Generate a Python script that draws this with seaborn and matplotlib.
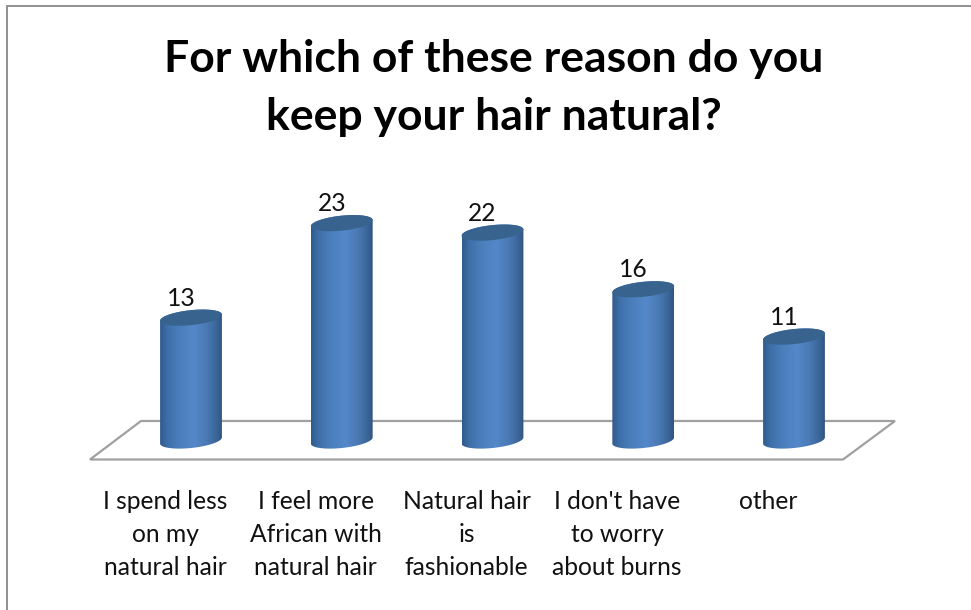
import numpy as np
import pandas as pd
import matplotlib
matplotlib.use("Agg")
import matplotlib.pyplot as plt
from matplotlib.colors import LinearSegmentedColormap
from matplotlib.patches import Polygon, Rectangle
from matplotlib.transforms import ScaledTranslation
import seaborn as sns

title_lines = ["For which of these reason do you", "keep your hair natural?"]
categories = ["I spend less\non my\nnatural hair", "I feel more\nAfrican with\nnatural hair",
              "Natural hair\nis\nfashionable", "I don't have\nto worry\nabout burns", "other"]
values = [13, 23, 22, 16, 11]

W, H = 971, 610
sns.set_theme(style="white")
plt.rcParams["font.family"] = ["Lato", "DejaVu Sans"]
fig = plt.figure(figsize=(W / 100, H / 100), dpi=100, facecolor="white")
fig.add_artist(Rectangle((7 / W, -0.1), 1, 1.1 - 6 / H, transform=fig.transFigure, fill=False,
                         edgecolor="#8f8f8f", lw=1.4))

L, R, B, T = 90, 896, 460, 200
ax = fig.add_axes([L / W, 1 - B / H, (R - L) / W, (B - T) / H])
sx, sy = 150.75, 9.45
base_px = 440.5
xlim = ((L - 191) / sx, (R - 191) / sx)
ylim = ((base_px - B) / sy, (base_px - T) / sy)

df = pd.DataFrame({"cat": categories, "val": values})
sns.barplot(data=df, x="cat", y="val", ax=ax, width=0.41, color="#4a7ebb", saturation=1, zorder=3)
ax.set_xlabel("")
ax.set_ylabel("")
ax.set_yticks([])
sns.despine(ax=ax, left=True, bottom=True)
ax.patch.set_alpha(0)
ax.tick_params(axis="x", length=0, pad=21.5, labelsize=17.7, colors="#111111")
shift = ScaledTranslation(-26 / 100, 0, fig.dpi_scale_trans)
for lab in ax.get_xticklabels():
    lab.set_linespacing(1.53)
    lab.set_verticalalignment("top")
    lab.set_transform(lab.get_transform() + shift)

to_x = lambda p: (p - 191) / sx
to_y = lambda p: (base_px - p) / sy
floor = Polygon([(to_x(90), to_y(459.5)), (to_x(843), to_y(459.5)), (to_x(895), to_y(421)), (to_x(141), to_y(421))],
                closed=True, fill=False, edgecolor="#a0a0a0", lw=1.6, zorder=1, clip_on=False)
ax.add_patch(floor)

cmap = LinearSegmentedColormap.from_list(
    "cyl", [(0, "#2f5a8c"), (0.12, "#3f6fa8"), (0.3, "#4a7dbb"), (0.55, "#5488c9"),
            (0.75, "#4a7ab5"), (0.92, "#3a6496"), (1, "#2f5480")])
grad = np.linspace(0, 1, 256)[None, :]
semi_minor = 7.5 / sy
slope = 0.1 * (sx / sy)
t = np.linspace(0, 2 * np.pi, 121)


def cap_points(cx, cy, w):
    dx = (w / 2) * np.cos(t)
    return np.column_stack([cx + dx, cy + semi_minor * np.sin(t) + slope * dx])


for bar, v in zip(list(ax.patches), values):
    x0, w = bar.get_x(), bar.get_width()
    cx = x0 + w / 2
    bar.set_visible(False)
    top = cap_points(cx, v, w)
    low = cap_points(cx, 0, w)
    pad = semi_minor + slope * w / 2
    im = ax.imshow(grad, extent=(x0, x0 + w, -pad, v + pad), cmap=cmap, aspect="auto", zorder=3,
                   interpolation="bilinear")
    lower_half = low[(t >= np.pi)]
    upper_half = top[(t <= np.pi)]
    im.set_clip_path(Polygon(np.vstack([lower_half, upper_half]), closed=True, transform=ax.transData))
    ax.add_patch(Polygon(top, closed=True, facecolor="#38638f", edgecolor="none", zorder=4))
    ax.annotate(str(v), (cx, v), xytext=(-10 * 0.72, 19.5 * 0.72), textcoords="offset points",
                ha="center", va="center", fontsize=17.7, color="#111111", zorder=5)
ax.set_xlim(xlim)
ax.set_ylim(ylim)

fig.text(494 / W, 1 - 59 / H, title_lines[0], ha="center", va="center", fontsize=32, fontweight="bold", color="black")
fig.text(494 / W, 1 - 117 / H, title_lines[1], ha="center", va="center", fontsize=32, fontweight="bold", color="black")

fig.savefig("out.png", dpi=100, facecolor="white")
